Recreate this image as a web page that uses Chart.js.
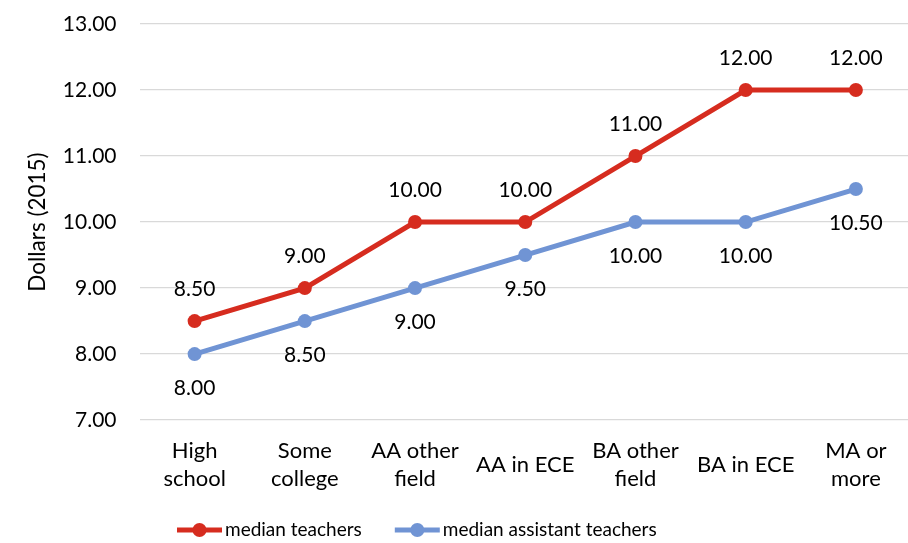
<!DOCTYPE html>
<html>
<head>
<meta charset="utf-8">
<script src="https://cdn.jsdelivr.net/npm/chart.js@4"></script>
<style>
html, body { margin: 0; padding: 0; overflow: hidden; background: #fff; }
#wrap { width: 918px; height: 543px; }
</style>
</head>
<body>
<div id="wrap"><canvas id="wagechart"></canvas></div>
<script>
const categories = [['High', 'school'], ['Some', 'college'], ['AA other', 'field'], 'AA in ECE', ['BA other', 'field'], 'BA in ECE', ['MA or', 'more']];
const teacherWages = [8.5, 9, 10, 10, 11, 12, 12];
const assistantWages = [8, 8.5, 9, 9.5, 10, 10, 10.5];
const seriesNames = ['median teachers', 'median assistant teachers'];
const yMin = 7, yMax = 13, yStep = 1;

const RED = '#d62c1f';
const BLUE = '#7094d4';
const FONT = 'Lato, "Open Sans", sans-serif';

// value labels above / below each point
const valueLabels = {
  id: 'valueLabels',
  afterDatasetsDraw(chart) {
    const ctx = chart.ctx;
    ctx.save();
    ctx.font = '21px ' + FONT;
    ctx.fillStyle = '#000';
    ctx.textAlign = 'center';
    ctx.textBaseline = 'middle';
    chart.data.datasets.forEach((ds, i) => {
      const meta = chart.getDatasetMeta(i);
      meta.data.forEach((pt, j) => {
        const dy = ds.labelSide === 'above' ? -32 : 34;
        ctx.fillText(ds.data[j].toFixed(2), pt.x, pt.y + dy);
      });
    });
    ctx.restore();
  }
};

// excel style legend: line with a dot, then the name
const lineLegend = {
  id: 'lineLegend',
  afterDraw(chart) {
    const ctx = chart.ctx;
    ctx.save();
    ctx.font = '19px ' + FONT;
    ctx.textBaseline = 'middle';
    let x = 177;
    const y = 530;
    chart.data.datasets.forEach(ds => {
      ctx.strokeStyle = ds.borderColor;
      ctx.lineWidth = 5;
      ctx.beginPath();
      ctx.moveTo(x, y);
      ctx.lineTo(x + 45, y);
      ctx.stroke();
      ctx.fillStyle = ds.borderColor;
      ctx.beginPath();
      ctx.arc(x + 22.5, y, 7, 0, Math.PI * 2);
      ctx.fill();
      ctx.fillStyle = '#000';
      ctx.fillText(ds.label, x + 48, y);
      x += 48 + ctx.measureText(ds.label).width + 33;
    });
    ctx.restore();
  }
};

const ctx1 = document.getElementById('wagechart').getContext('2d');
const wagechart = new Chart(ctx1, {
  type: 'line',
  data: {
    labels: categories,
    datasets: [{
      label: seriesNames[0],
      data: teacherWages,
      borderColor: RED,
      backgroundColor: RED,
      pointBackgroundColor: RED,
      borderWidth: 5,
      pointRadius: 7,
      pointHoverRadius: 7,
      pointBorderWidth: 0,
      labelSide: 'above'
    }, {
      label: seriesNames[1],
      data: assistantWages,
      borderColor: BLUE,
      backgroundColor: BLUE,
      pointBackgroundColor: BLUE,
      borderWidth: 5,
      pointRadius: 7,
      pointHoverRadius: 7,
      pointBorderWidth: 0,
      labelSide: 'below'
    }]
  },
  options: {
    responsive: true,
    maintainAspectRatio: false,
    animation: false,
    layout: { padding: { top: 24, right: 0, bottom: 13, left: 0 } },
    plugins: {
      legend: { display: false },
      tooltip: { enabled: false }
    },
    scales: {
      x: {
        offset: true,
        grid: { display: false },
        border: { display: false },
        ticks: {
          color: '#000',
          font: { family: FONT, size: 22, lineHeight: 1.27 },
          maxRotation: 0,
          autoSkip: false,
          padding: 23,
          crossAlign: 'center'
        }
      },
      y: {
        min: yMin,
        max: yMax,
        afterFit: s => { s.width = 139.5; s.paddingTop = 0; s.paddingBottom = 0; },
        grid: { color: '#d9d9d9', lineWidth: 1.3, drawTicks: false },
        border: { display: false },
        ticks: {
          stepSize: yStep,
          color: '#000',
          padding: 23,
          font: { family: FONT, size: 21 },
          callback: v => v.toFixed(2)
        },
        title: {
          display: true,
          text: 'Dollars (2015)',
          color: '#000',
          font: { family: FONT, size: 22.5 },
          padding: { top: 24.5, bottom: 0 }
        }
      }
    }
  },
  plugins: [valueLabels, lineLegend]
});
</script>
</body>
</html>
